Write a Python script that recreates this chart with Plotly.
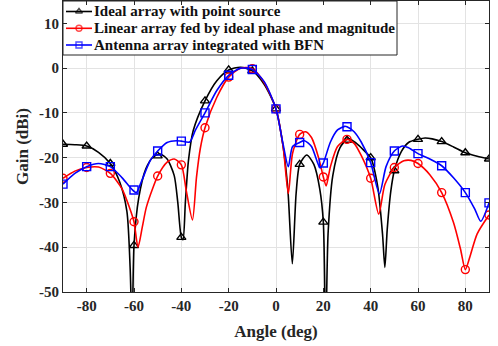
import plotly.graph_objects as go

# Marker points (every 10 deg)
ang_m = [-90, -80, -70, -60, -50, -40, -30, -20, -10, 0, 10, 20, 30, 40, 50, 60, 70, 80, 90]
ideal_m = [-17.0, -17.4, -21.3, -39.6, -19.6, -37.8, -7.3, -0.4, -0.6, -9.1, -21.5, -34.4, -16.1, -20.0, -22.9, -15.9, -16.4, -18.9, -20.3]
linear_m = [-24.6, -22.2, -23.5, -34.3, -24.1, -21.6, -13.3, -2.0, -0.1, -9.1, -14.8, -24.3, -15.9, -24.6, -22.2, -21.3, -27.8, -45.0, -32.8]
bfn_m = [-25.9, -22.0, -22.0, -27.2, -18.5, -16.3, -10.0, -1.6, -0.3, -9.1, -16.6, -21.2, -13.1, -21.1, -18.5, -19.1, -21.8, -27.8, -30.1]

# Curves
ideal_x = [-90, -85, -80, -75, -70, -66, -63, -61.6, -60.8, -60, -58, -55, -52, -49, -46, -43, -41.5, -40, -39.3, -38.3, -37, -35, -30, -25, -20, -15, -10, -5, 0, 3, 5, 6.9, 8.5, 10, 13, 16, 18.5, 20, 21, 22, 24, 27, 30.5, 34, 37, 40, 43, 45, 46, 47, 48.5, 50, 53, 56, 60, 63, 66, 70, 75, 80, 85, 90]
ideal_y = [-17.0, -17.1, -17.4, -18.8, -21.3, -25.5, -32.0, -45.0, -60.0, -39.6, -29.0, -22.5, -19.9, -19.2, -20.3, -24.0, -30.0, -37.8, -38.3, -30.0, -20.7, -14.0, -7.3, -2.8, -0.4, 0.2, -0.6, -3.6, -9.1, -17.5, -27.0, -43.7, -28.0, -21.5, -19.4, -21.5, -27.0, -34.4, -60.0, -37.0, -24.0, -17.8, -15.7, -16.8, -18.3, -20.0, -26.5, -37.0, -44.5, -36.0, -27.5, -22.9, -18.6, -16.6, -15.9, -15.6, -15.8, -16.4, -17.6, -18.9, -19.7, -20.3]

linear_x = [-90, -85, -80, -75, -70, -65, -62, -60, -58.3, -56.5, -54.8, -52, -50, -46, -43, -40, -37.9, -35.3, -33.6, -32, -30, -25, -20, -15, -10, -5, 0, 3, 5.2, 7, 10, 12.5, 15, 18, 20, 21.2, 23, 26, 30, 33, 36, 40, 43.4, 46, 50, 54, 57, 60, 65, 70, 75, 78, 80, 82, 85, 90]
linear_y = [-24.6, -23.0, -22.2, -22.1, -23.5, -27.0, -31.0, -34.3, -40.0, -35.5, -31.1, -26.7, -24.1, -21.0, -20.3, -21.6, -27.4, -33.9, -24.4, -18.0, -13.3, -6.5, -2.0, 0.0, -0.1, -3.2, -9.1, -17.5, -28.0, -19.0, -14.8, -14.2, -15.5, -20.0, -24.3, -26.3, -22.0, -17.5, -15.9, -16.8, -19.5, -24.6, -32.6, -26.0, -22.2, -20.7, -20.6, -21.3, -23.8, -27.8, -34.5, -40.5, -45.0, -42.0, -37.0, -32.8]

bfn_x = [-90, -85, -80, -75, -70, -65, -61, -59, -57, -53, -50, -46, -42, -40, -36.5, -34, -30, -25, -20, -15, -10, -5, 0, 3, 5.2, 7, 10, 12, 15, 18.6, 20, 23, 26, 29, 30, 33, 36, 40, 43.7, 46.5, 50, 53.5, 56, 60, 65, 70, 75, 80, 84, 86.5, 90]
bfn_y = [-25.9, -23.5, -22.0, -21.3, -22.0, -24.5, -27.0, -27.8, -25.5, -20.5, -18.5, -16.6, -16.2, -16.3, -16.5, -13.8, -10.0, -5.0, -1.6, 0.0, -0.3, -3.0, -9.1, -17.0, -22.0, -17.5, -16.6, -16.2, -17.5, -22.3, -21.2, -16.5, -13.8, -13.0, -13.1, -14.2, -16.5, -21.1, -28.1, -22.0, -18.5, -17.4, -17.8, -19.1, -20.3, -21.8, -24.5, -27.8, -31.5, -34.2, -30.1]

names = ["Ideal array with point source",
         "Linear array fed by ideal phase and magnitude",
         "Antenna array integrated with BFN"]
colors = ["#000000", "#FF0000", "#0000FF"]
symbols = ["triangle-up-open", "circle-open", "square-open"]
x_ticks = [-80, -60, -40, -20, 0, 20, 40, 60, 80]
y_ticks = [10, 0, -10, -20, -30, -40, -50]

FF = "Liberation Serif"
W, H = 498, 346
ML, MR, MT, MB = 63, 9, 1, 54
PW, PH = W - ML - MR, H - MT - MB


def fx(px):
    return (px - ML) / PW


def fy(py):
    return 1 - (py - MT) / PH


fig = go.Figure()
curves = [(ideal_x, ideal_y, ideal_m), (linear_x, linear_y, linear_m), (bfn_x, bfn_y, bfn_m)]
for (cx, cy, my), name, col, sym in zip(curves, names, colors, symbols):
    fig.add_trace(go.Scatter(x=cx, y=cy, mode="lines", line=dict(color=col, width=1.6, shape="spline", smoothing=0.7),
                             showlegend=False, hoverinfo="skip", name=name))
    fig.add_trace(go.Scatter(x=ang_m, y=my, mode="markers", name=name,
                             marker=dict(symbol=sym, size=8, color=col, line=dict(width=1.4, color=col)),
                             showlegend=False))

# Legend (MATLAB style) drawn on an overlay axis in plot-fraction units
box_l, box_r, box_t, box_b = fx(63), fx(397), 1.0, fy(55)
fig.add_trace(go.Scatter(x=[box_l, box_r, box_r, box_l, box_l], y=[box_t, box_t, box_b, box_b, box_t],
                         xaxis="x2", yaxis="y2", mode="lines", fill="toself", fillcolor="white",
                         line=dict(color="#262626", width=1), showlegend=False, hoverinfo="skip"))
row_y = [11.5, 28.3, 45.0]
for name, col, sym, ry in zip(names, colors, symbols, row_y):
    fig.add_trace(go.Scatter(x=[fx(66), fx(79), fx(92)], y=[fy(ry)] * 3, xaxis="x2", yaxis="y2",
                             mode="lines+markers", line=dict(color=col, width=1.6),
                             marker=dict(symbol=sym, size=[0, 6, 0], color=col, line=dict(width=1.4, color=col)),
                             showlegend=False, hoverinfo="skip"))
    fig.add_annotation(x=fx(93), y=fy(ry), xref="paper", yref="paper", xanchor="left", yanchor="middle",
                       text="<b>" + name + "</b>", showarrow=False, borderpad=0,
                       font=dict(family=FF, size=15, color="#111111"))

axis_common = dict(showgrid=True, gridcolor="#e3e3e3", gridwidth=1, zeroline=False,
                   showline=True, linecolor="#262626", linewidth=1, mirror="allticks",
                   ticks="inside", ticklen=4, tickcolor="#262626",
                   tickfont=dict(family=FF, size=15, color="#262626"))

fig.update_layout(
    width=W, height=H,
    margin=dict(l=ML, r=MR, t=MT, b=MB),
    paper_bgcolor="white", plot_bgcolor="white",
    font=dict(family=FF, size=15, color="#262626"),
    showlegend=False,
    xaxis=dict(range=[-90, 90], tickvals=x_ticks, ticktext=["<b>%d</b>" % v for v in x_ticks],
               title=dict(text="<b>Angle (deg)</b>", font=dict(family=FF, size=17, color="#262626"), standoff=12),
               **axis_common),
    yaxis=dict(range=[-50, 15], tickvals=y_ticks, ticktext=["<b>%d</b>" % v for v in y_ticks],
               title=dict(text="<b>Gain (dBi)</b>", font=dict(family=FF, size=17, color="#262626"), standoff=6),
               **axis_common),
    xaxis2=dict(overlaying="x", range=[0, 1], visible=False, fixedrange=True),
    yaxis2=dict(overlaying="y", range=[0, 1], visible=False, fixedrange=True),
)

fig.write_html("out.html")
